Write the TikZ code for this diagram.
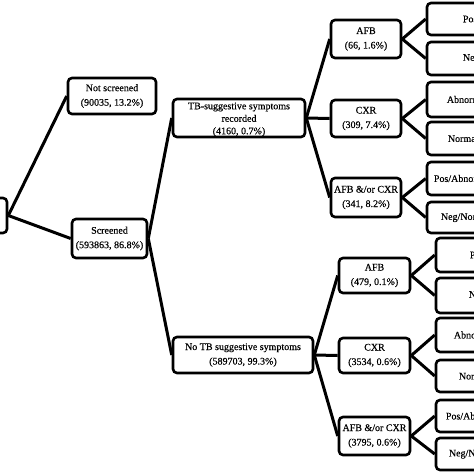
\documentclass[tikz,border=0pt]{standalone}
\usepackage{fontspec}
\setmainfont[FakeBold=0.3]{Liberation Serif}
\usetikzlibrary{calc}
\begin{document}
\begin{tikzpicture}[x=1pt,y=-1pt,
  box/.style={draw, line width=2.6pt, rounded corners=4pt, fill=white, align=center, inner sep=0pt,
    font=\fontsize{10}{14.5}\selectfont},
  conn/.style={line width=3pt},
  lbl/.style={anchor=west, inner sep=0pt, font=\fontsize{10}{12}\selectfont}]
\clip (0,0) rectangle (474,474);
\fill[white] (0,0) rectangle (474,474);
% level 0/1/2
\node[box, minimum width=47, minimum height=35] (root) at (-16.5,215.5) {};
\node[box, minimum width=88, minimum height=36] (ns) at (112,96) {Not screened\\(90035, 13.2\%)};
\node[box, minimum width=75, minimum height=39] (sc) at (109.5,238.5) {Screened\\(593863, 86.8\%)};
\node[box, minimum width=132, minimum height=38] (tb) at (239,118) {};
\node[align=center, inner sep=0pt, font=\fontsize{10}{12.5}\selectfont] (tbt) at (239,119.5) {TB-suggestive symptoms\\recorded\\(4160, 0.7\%)};
\node[box, minimum width=140, minimum height=36] (nt) at (243,355) {No TB suggestive symptoms\\(589703, 99.3\%)};
% upper mid
\node[box, minimum width=70, minimum height=38] (a1) at (366,39) {AFB\\(66, 1.6\%)};
\node[box, minimum width=70, minimum height=37] (c1) at (366,118.5) {CXR\\(309, 7.4\%)};
\node[box, minimum width=70, minimum height=39] (b1) at (366,197.5) {AFB \&/or CXR\\(341, 8.2\%)};
% lower mid
\node[box, minimum width=71, minimum height=35] (a2) at (374.5,275.5) {AFB\\(479, 0.1\%)};
\node[box, minimum width=71, minimum height=35] (c2) at (374.5,355.5) {CXR\\(3534, 0.6\%)};
\node[box, minimum width=71, minimum height=38] (b2) at (374.5,436) {AFB \&/or CXR\\(3795, 0.6\%)};
% upper leaves
\node[box, minimum width=133, minimum height=32] (l1) at (493.5,19) {};
\node[box, minimum width=133, minimum height=33] (l2) at (493.5,58.5) {};
\node[box, minimum width=133, minimum height=35] (l3) at (493.5,99.5) {};
\node[box, minimum width=133, minimum height=33] (l4) at (493.5,138.5) {};
\node[box, minimum width=133, minimum height=33] (l5) at (493.5,178.5) {};
\node[box, minimum width=133, minimum height=31] (l6) at (493.5,217.5) {};
% lower leaves
\node[box, minimum width=134, minimum height=34] (m1) at (503,255) {};
\node[box, minimum width=134, minimum height=35] (m2) at (503,295.5) {};
\node[box, minimum width=134, minimum height=34] (m3) at (503,335) {};
\node[box, minimum width=134, minimum height=32] (m4) at (503,376) {};
\node[box, minimum width=134, minimum height=32] (m5) at (503,416) {};
\node[box, minimum width=134, minimum height=32] (m6) at (503,454) {};
% leaf texts
\node[lbl] (t1) at ($(l1.west)+(37,0)$) {Positive};
\node[lbl] (t2) at ($(l2.west)+(37,0)$) {Negative};
\node[lbl] (t3) at ($(l3.west)+(21,0)$) {Abnormal};
\node[lbl] (t4) at ($(l4.west)+(22,0)$) {Normal};
\node[lbl] (t5) at ($(l5.west)+(8,0)$) {Pos/Abnormal};
\node[lbl] (t6) at ($(l6.west)+(15,0)$) {Neg/Normal};
\node[lbl] (u1) at ($(m1.west)+(35,0)$) {Positive};
\node[lbl] (u2) at ($(m2.west)+(34,0)$) {Negative};
\node[lbl] (u3) at ($(m3.west)+(19,0)$) {Abnormal};
\node[lbl] (u4) at ($(m4.west)+(24,0)$) {Normal};
\node[lbl] (u5) at ($(m5.west)+(11,0)$) {Pos/Abnormal};
\node[lbl] (u6) at ($(m6.west)+(14,0)$) {Neg/Normal};
% connectors
\draw[conn] (root.east) -- (ns.west);
\draw[conn] (root.east) -- (sc.west);
\draw[conn] (sc.east) -- (tb.west);
\draw[conn] (sc.east) -- (nt.west);
\foreach \c in {a1,c1,b1} \draw[conn] (tb.east) -- (\c.west);
\foreach \c in {a2,c2,b2} \draw[conn] (nt.east) -- (\c.west);
\draw[conn] (a1.east) -- (l1.west); \draw[conn] (a1.east) -- (l2.west);
\draw[conn] (c1.east) -- (l3.west); \draw[conn] (c1.east) -- (l4.west);
\draw[conn] (b1.east) -- (l5.west); \draw[conn] (b1.east) -- (l6.west);
\draw[conn] (a2.east) -- (m1.west); \draw[conn] (a2.east) -- (m2.west);
\draw[conn] (c2.east) -- (m3.west); \draw[conn] (c2.east) -- (m4.west);
\draw[conn] (b2.east) -- (m5.west); \draw[conn] (b2.east) -- (m6.west);
\end{tikzpicture}
\end{document}
